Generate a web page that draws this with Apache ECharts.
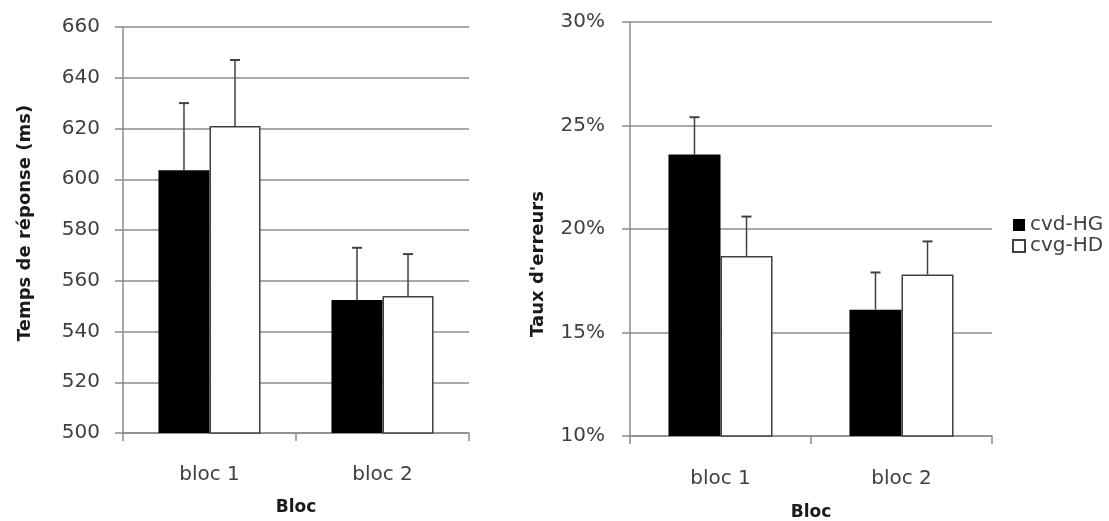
<!DOCTYPE html>
<html>
<head>
<meta charset="utf-8">
<script src="https://cdn.jsdelivr.net/npm/echarts@6/dist/echarts.min.js"></script>
<style>
html,body{margin:0;padding:0;background:#fff;}
#chart{width:1109px;height:521px;}
</style>
</head>
<body>
<div id="chart"></div>
<script>
// ---- data ----
var categories = ['bloc 1', 'bloc 2'];
var seriesNames = ['cvd-HG', 'cvg-HD'];
// Response time (ms)
var rtMean_cvdHG = [603.5, 552.4];
var rtMean_cvgHD = [621, 554];
var rtErrTop_cvdHG = [630, 573];
var rtErrTop_cvgHD = [647, 570.5];
// Error rate (%)
var errMean_cvdHG = [23.6, 16.1];
var errMean_cvgHD = [18.7, 17.8];
var errErrTop_cvdHG = [25.4, 17.9];
var errErrTop_cvgHD = [20.6, 19.4];
// tick settings
var rtTicks = {min: 500, max: 660, interval: 20};
var errTicks = {min: 10, max: 30, interval: 5};

var FONT = '"DejaVu Sans", sans-serif';
var TXT = '#404040';
var GRID = '#8c8c8c';

function errSeries(name, xIdx, yIdx, means, tops, side, gap) {
  var data = means.map(function (m, i) { return [i, m, tops[i]]; });
  return {
    type: 'custom',
    name: name + ' err',
    xAxisIndex: xIdx, yAxisIndex: yIdx,
    z: 5,
    silent: true,
    data: data,
    renderItem: function (params, api) {
      var i = api.value(0);
      var base = api.coord([i, api.value(1)]);
      var top = api.coord([i, api.value(2)]);
      var band = api.size([1, 0])[0];
      var bw = band * (1 - gap) / 2;
      var x = base[0] + side * bw / 2;
      var cap = 5;
      return {
        type: 'group',
        children: [
          {type: 'line', shape: {x1: x, y1: base[1], x2: x, y2: top[1]}, style: {stroke: '#404040', lineWidth: 1.5}},
          {type: 'line', shape: {x1: x - cap, y1: top[1], x2: x + cap, y2: top[1]}, style: {stroke: '#404040', lineWidth: 2}}
        ]
      };
    }
  };
}

function yAxis(gridIndex, ticks, name, nameGap, fmt, labelMargin, namePad) {
  return {
    type: 'value', gridIndex: gridIndex,
    min: ticks.min, max: ticks.max, interval: ticks.interval,
    name: name, nameLocation: 'middle', nameGap: nameGap, nameRotate: 90,
    nameTextStyle: {fontFamily: FONT, fontWeight: 'bold', fontSize: 18, color: '#1a1a1a', padding: namePad},
    axisLine: {show: true, lineStyle: {color: GRID, width: 1.5}},
    axisTick: {show: true, length: 8, lineStyle: {color: GRID, width: 1.5}},
    axisLabel: {fontFamily: FONT, fontSize: 20, color: TXT, margin: labelMargin, formatter: fmt},
    splitLine: {show: true, lineStyle: {color: GRID, width: 1.5}}
  };
}

function xAxis(gridIndex, labelMargin, nameGap) {
  return {
    type: 'category', gridIndex: gridIndex, data: categories,
    name: 'Bloc', nameLocation: 'middle', nameGap: nameGap,
    nameTextStyle: {fontFamily: FONT, fontWeight: 'bold', fontSize: 17, color: '#1a1a1a'},
    axisLine: {show: true, lineStyle: {color: GRID, width: 1.5}},
    axisTick: {show: true, length: 8, alignWithLabel: false, lineStyle: {color: GRID, width: 1.5}},
    axisLabel: {fontFamily: FONT, fontSize: 20, color: TXT, margin: labelMargin}
  };
}

function barSeries(name, xIdx, yIdx, data, filled, gap) {
  return {
    type: 'bar', name: name, xAxisIndex: xIdx, yAxisIndex: yIdx,
    data: data,
    barGap: '0%', barCategoryGap: (gap * 100) + '%',
    itemStyle: filled ? {color: '#000000', borderColor: '#000000', borderWidth: 0}
                      : {color: '#ffffff', borderColor: '#404040', borderWidth: 1.5},
    emphasis: {disabled: true}
  };
}

var GAP_L = 0.41, GAP_R = 0.425;

var chart = echarts.init(document.getElementById('chart'), null, {renderer: 'canvas'});
chart.setOption({
  animation: false,
  backgroundColor: '#ffffff',
  textStyle: {fontFamily: FONT},
  grid: [
    {left: 123, top: 27, width: 346, height: 406, outerBoundsMode: 'none', containLabel: false},
    {left: 630, top: 22, width: 362, height: 414, outerBoundsMode: 'none', containLabel: false}
  ],
  legend: {
    orient: 'vertical', left: 1012, top: 215, padding: 0,
    itemWidth: 12, itemHeight: 12, itemGap: 1,
    icon: 'rect',
    data: seriesNames,
    textStyle: {fontFamily: FONT, fontSize: 20, lineHeight: 16, color: TXT}
  },
  xAxis: [xAxis(0, 32, 66), xAxis(1, 33, 68)],
  yAxis: [
    yAxis(0, rtTicks, 'Temps de réponse (ms)', 89, '{value}', 23, [0, 0, 0, 14]),
    yAxis(1, errTicks, "Taux d'erreurs", 83, '{value}%', 25, [0, 70, 0, 0])
  ],
  series: [
    barSeries(seriesNames[0], 0, 0, rtMean_cvdHG, true, GAP_L),
    barSeries(seriesNames[1], 0, 0, rtMean_cvgHD, false, GAP_L),
    barSeries(seriesNames[0], 1, 1, errMean_cvdHG, true, GAP_R),
    barSeries(seriesNames[1], 1, 1, errMean_cvgHD, false, GAP_R),
    errSeries(seriesNames[0], 0, 0, rtMean_cvdHG, rtErrTop_cvdHG, -1, GAP_L),
    errSeries(seriesNames[1], 0, 0, rtMean_cvgHD, rtErrTop_cvgHD, 1, GAP_L),
    errSeries(seriesNames[0], 1, 1, errMean_cvdHG, errErrTop_cvdHG, -1, GAP_R),
    errSeries(seriesNames[1], 1, 1, errMean_cvgHD, errErrTop_cvgHD, 1, GAP_R)
  ]
});
</script>
</body>
</html>
